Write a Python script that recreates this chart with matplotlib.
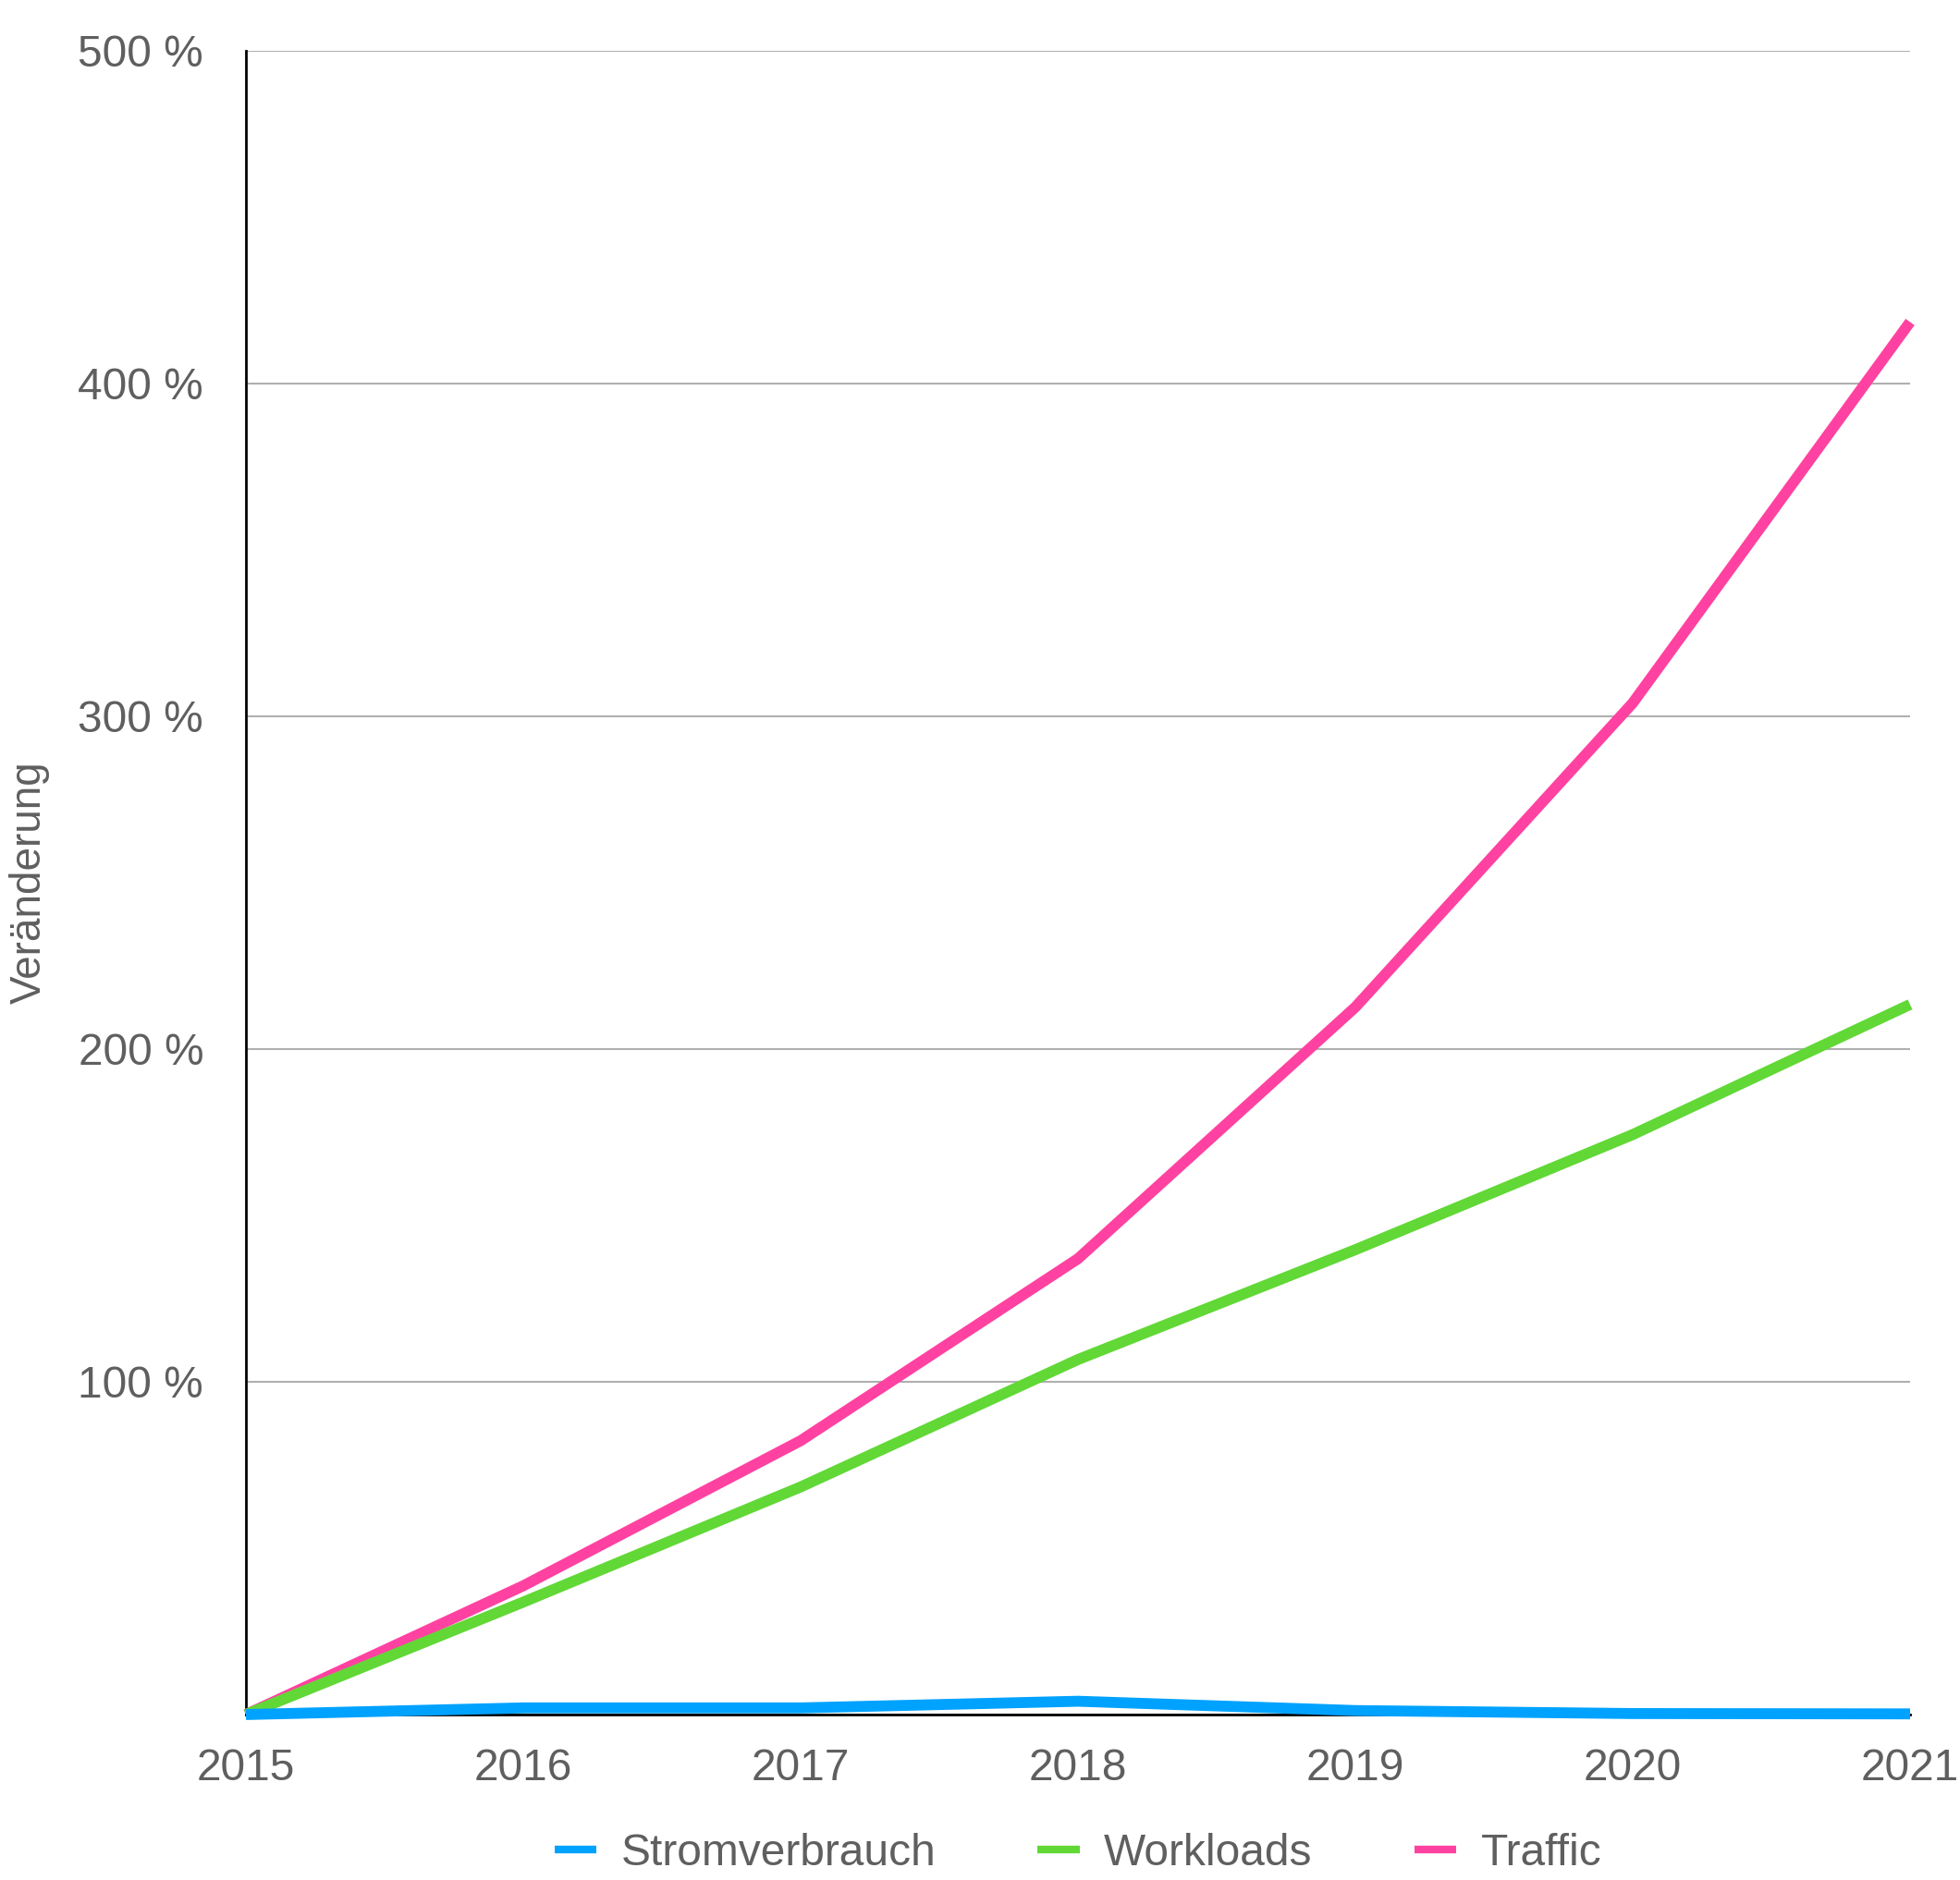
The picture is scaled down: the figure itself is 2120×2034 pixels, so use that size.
import numpy as np
import matplotlib.pyplot as plt

plt.rcParams['font.family'] = ['Liberation Sans', 'DejaVu Sans']

# data (change in %, relative to 2015)
years = [2015, 2016, 2017, 2018, 2019, 2020, 2021]
strom = [0, 2.0, 2.0, 4.0, 1.2, 0.3, 0.2]
workloads = [0, 33.8, 68.4, 106.7, 139.7, 174.3, 213.4]
traffic = [0, 38.7, 82.3, 137.0, 212.6, 304.0, 418.5]
yticks = [0, 100, 200, 300, 400, 500]
ytick_labels = ["", "100 %", "200 %", "300 %", "400 %", "500 %"]

c_blue, c_green, c_pink = "#00a2ff", "#61d836", "#ff42a1"
txt = "#5f5f5f"
lw = 8.5

fig = plt.figure(figsize=(21.2, 20.34), dpi=100)
ax = fig.add_axes([266/2120, 1-1855/2034, 1800/2120, 1800/2034])

lt, = ax.plot(years, traffic, color=c_pink, lw=lw, solid_capstyle='butt', clip_on=False, zorder=3)
lw_, = ax.plot(years, workloads, color=c_green, lw=lw, solid_capstyle='butt', clip_on=False, zorder=4)
ls, = ax.plot(years, strom, color=c_blue, lw=lw, solid_capstyle='butt', clip_on=False, zorder=5)

ax.set_xlim(2015, 2021)
ax.set_ylim(0, 500)
ax.set_xticks(years)
ax.set_xticklabels([str(y) for y in years])
ax.set_yticks(yticks)
ax.set_yticklabels(ytick_labels)
ax.tick_params(axis='both', length=0, labelsize=34.5, labelcolor=txt)
ax.tick_params(axis='y', pad=33)
ax.tick_params(axis='x', pad=26)

ax.grid(axis='y', color="#b0b0b0", lw=1.5)
ax.set_axisbelow(True)
for s in ['top', 'right']:
    ax.spines[s].set_visible(False)
ax.spines['left'].set_linewidth(2)
ax.spines['bottom'].set_linewidth(2)
ax.spines['left'].set_color("black")
ax.spines['bottom'].set_color("black")

ax.set_ylabel("Veränderung", fontsize=33, color=txt)
ax.yaxis.set_label_coords(-0.118, 0.5)

leg = ax.legend([ls, lw_, lt], ["Stromverbrauch", "Workloads", "Traffic"],
                loc='center', bbox_to_anchor=(0.5, -(2005-1855)/1800), ncol=3,
                frameon=False, fontsize=34.5, handlelength=0.95, handletextpad=0.55,
                columnspacing=2.3, labelcolor=txt)
for h in leg.get_lines():
    h.set_linewidth(6)

fig.savefig("out.png", dpi=100)
